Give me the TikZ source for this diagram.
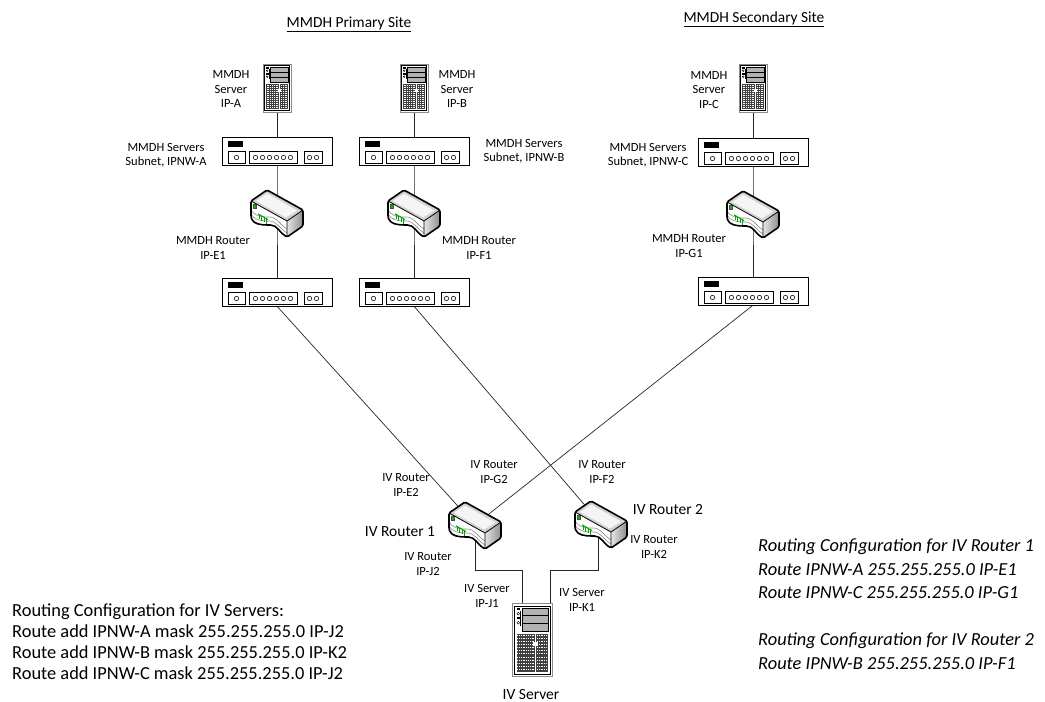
\documentclass[tikz,border=0pt]{standalone}
\usepackage{fontspec}
\setmainfont{Carlito}
\usetikzlibrary{calc}
\tikzset{
  wire/.style={line width=0.7pt, black!85},
  lbl/.style={font=\fontsize{12.5}{14.5}\selectfont, align=center, inner sep=0pt},
  biglbl/.style={font=\fontsize{15.5}{18}\selectfont, inner sep=0pt},
  titlelbl/.style={font=\fontsize{15.4}{18}\selectfont, inner sep=0pt},
  cfg/.style={font=\fontsize{18.4}{21}\selectfont, align=left, inner sep=0pt, anchor=west},
  cfgit/.style={font=\fontsize{18.4}{23.5}\selectfont\itshape, align=left, inner sep=0pt, anchor=west},
  srvnode/.style={minimum width=29pt, minimum height=49pt, inner sep=0pt},
  bigsrvnode/.style={minimum width=41pt, minimum height=74pt, inner sep=0pt},
  hubnode/.style={minimum width=110pt, minimum height=28pt, inner sep=0pt},
  rtrnode/.style={minimum width=56pt, minimum height=48pt, inner sep=0pt},
  pics/srv/.style={code={
    \draw[black!45, fill=white, line width=0.8] (-14,-24) rectangle (14,24);
    \draw[line width=0.6] (-12.5,-22.5) rectangle (12.5,22.5);
    \fill (-11,-21) rectangle (-8.5,-19.5);
    \draw[line width=0.4] (-9.8,-17.3) circle (0.9);
    \fill (-11,-15) rectangle (-8.5,-13.5);
    \draw[line width=0.4] (-9.8,-11.3) circle (0.9);
    \fill (-8.3,-19) rectangle (-7.6,-9);
    \foreach \j in {0,1,2} \draw[fill=black!30, line width=0.5] (-7,-21+5*\j) rectangle (11,-16+5*\j);
    \fill[black!75] (-11,-4) rectangle (11,21);
    \foreach \yy in {-3,-1,...,20} \draw[white, line width=0.45, dash pattern=on 0.8pt off 1pt] (-10.5,\yy) -- (10.5,\yy);
    \draw[white, line width=0.9] (2,-4) -- (2,21);
    \fill[white] (0.5,1) rectangle (3.5,4);
  }},
  pics/hub/.style={code={
    \fill[black!30] (-54,-13) rectangle (56,15);
    \draw[fill=white, line width=0.8] (-55,-14) rectangle (55,14);
    \fill (-49,-10) rectangle (-34,-4);
    \draw[line width=0.6] (-49,0) rectangle (-32,12);
    \draw[line width=0.6] (-28,0) rectangle (20,12);
    \draw[line width=0.6] (27,0) rectangle (45,12);
    \draw[line width=0.55] (-40.5,6.5) circle (2.2);
    \foreach \i in {0,...,5} \draw[line width=0.55] (-21.5+7*\i,6.5) circle (2.2);
    \draw[line width=0.55] (32.5,6.5) circle (2.2);
    \draw[line width=0.55] (39.5,6.5) circle (2.2);
  }},
  pics/rtr/.style={code={
    \begin{scope}[shift={(-28,-25)}]
    \shade[left color=black!10, right color=black!45] (38,33) -- (54,22) -- (54,38) -- (38,49) -- cycle;
    \fill[white] (2,13) -- (38,33) -- (38,49) .. controls (30,44) and (28,37) .. (20,37) .. controls (12,37) and (4,36) .. (2,29) -- cycle;
    \draw[black!45, line width=0.6] (2,25) .. controls (4,32) and (12,33) .. (20,33) .. controls (28,33) and (30,40) .. (38,45);
    \draw[black!45, line width=0.6] (2,21) .. controls (4,28) and (12,29) .. (20,29) .. controls (28,29) and (30,36) .. (38,41);
    \fill[black!18] (2,13) -- (18,2) -- (54,22) -- (38,33) -- cycle;
    \fill[black!4] (7,13) -- (18,5.5) -- (48,22.5) -- (37,29.5) -- cycle;
    \fill[black!70] (4,16) rectangle (8,21);
    \fill[green!75!black] (4.8,17) rectangle (7.2,20);
    \draw[green!65!black, line width=1] (9,25.9) -- (19,31.5);
    \foreach \gx in {10,12.5,15,17.5} \draw[green!65!black, line width=0.9] (\gx,{26.4+(\gx-10)*0.556}) -- ++(0,5);
    \draw[line width=1.6, line join=round, rounded corners=1.5] (2,13) -- (18,2) -- (54,22) -- (54,38) -- (38,49) .. controls (30,44) and (28,37) .. (20,37) .. controls (12,37) and (4,36) .. (2,29) -- cycle;
    \draw[line width=0.8, line join=round] (2,13) -- (38,33) -- (54,22) (38,33) -- (38,49);
    \end{scope}
  }},
}
\begin{document}
\begin{tikzpicture}[x=1pt,y=-1pt]
\fill[white] (0,0) rectangle (1045,702);
\useasboundingbox (0,0) rectangle (1045,702);

% placeholder nodes
\node[srvnode] (sA) at (277,88) {};
\node[srvnode] (sB) at (414,88) {};
\node[srvnode] (sC) at (753,88) {};
\node[hubnode] (hA1) at (277,151) {};
\node[hubnode] (hB1) at (414,151) {};
\node[hubnode] (hC1) at (753,152) {};
\node[rtrnode] (rA) at (277,213) {};
\node[rtrnode] (rB) at (414,213) {};
\node[rtrnode] (rC) at (753,214) {};
\node[hubnode] (hA2) at (277,292) {};
\node[hubnode] (hB2) at (414,292) {};
\node[hubnode] (hC2) at (753,291) {};
\node[rtrnode] (r1) at (475,525) {};
\node[rtrnode] (r2) at (601,524) {};
\node[bigsrvnode] (ivs) at (532.5,640) {};

% connectors
\draw[wire] (sA.south) -- (hA1.north);
\draw[wire] (sB.south) -- (hB1.north);
\draw[wire] (sC.south) -- (hC1.north);
\draw[wire] (hA1.south) -- (rA.center) -- (hA2.north);
\draw[wire] (hB1.south) -- (rB.center) -- (hB2.north);
\draw[wire] (hC1.south) -- (rC.center) -- (hC2.north);
\draw[wire] (hA2.south) -- (r1.center);
\draw[wire] (hB2.south) -- (r2.center);
\draw[wire] (hC2.south) -- (r1.center);
\draw[wire] (r1.center) -- ++(0,45) -| ($(ivs.north)+(-10,0)$);
\draw[wire] ($(r2.center)+(-3,0)$) -- ++(0,46) -| ($(ivs.north)+(18,0)$);

% icons
\pic at (sA) {srv};
\pic at (sB) {srv};
\pic at (sC) {srv};
\pic at (hA1) {hub};
\pic at (hB1) {hub};
\pic at (hC1) {hub};
\pic at (hA2) {hub};
\pic at (hB2) {hub};
\pic at (hC2) {hub};
\pic at (rA) {rtr};
\pic at (rB) {rtr};
\pic at (rC) {rtr};
\pic at (r1) {rtr};
\pic at (r2) {rtr};
\pic[xscale=1.45, yscale=1.52] at (ivs) {srv};

% titles
\node[titlelbl] (t1) at (349,24) {\underline{MMDH Primary Site}};
\node[titlelbl] (t2) at (754,19) {\underline{MMDH Secondary Site}};

% labels
\node[lbl] (lsA) at (231,89) {MMDH\\Server\\IP-A};
\node[lbl] (lsB) at (457,89) {MMDH\\Server\\IP-B};
\node[lbl] (lsC) at (709,90) {MMDH\\Server\\IP-C};
\node[lbl] (lnA) at (166,155) {MMDH Servers\\Subnet, IPNW-A};
\node[lbl] (lnB) at (524,151) {MMDH Servers\\Subnet, IPNW-B};
\node[lbl] (lnC) at (648,155) {MMDH Servers\\Subnet, IPNW-C};
\node[lbl] (lrA) at (213,248) {MMDH Router\\IP-E1};
\node[lbl] (lrB) at (479,248) {MMDH Router\\IP-F1};
\node[lbl] (lrC) at (689,246) {MMDH Router\\IP-G1};
\node[lbl] (le2) at (406,485) {IV Router\\IP-E2};
\node[lbl] (lg2) at (494,472) {IV Router\\IP-G2};
\node[lbl] (lf2) at (602,472) {IV Router\\IP-F2};
\node[biglbl] (lr1) at (400,532) {IV Router 1};
\node[biglbl] (lr2) at (668,510) {IV Router 2};
\node[lbl] (lj2) at (428,564) {IV Router\\IP-J2};
\node[lbl] (lk2) at (654,547) {IV Router\\IP-K2};
\node[lbl] (lj1) at (487,596) {IV Server\\IP-J1};
\node[lbl] (lk1) at (582,600) {IV Server\\IP-K1};
\node[biglbl] (livs) at (531,695) {IV Server};

% configuration texts
\node[cfg] (cfgS) at (12,641.5) {Routing Configuration for IV Servers:\\Route add IPNW-A mask 255.255.255.0 IP-J2\\Route add IPNW-B mask 255.255.255.0 IP-K2\\Route add IPNW-C mask 255.255.255.0 IP-J2};
\node[cfgit] (cfg1) at (758,569) {Routing Configuration for IV Router 1\\Route IPNW-A 255.255.255.0 IP-E1\\Route IPNW-C 255.255.255.0 IP-G1};
\node[cfgit] (cfg2) at (758,651) {Routing Configuration for IV Router 2\\Route IPNW-B 255.255.255.0 IP-F1};
\end{tikzpicture}
\end{document}
